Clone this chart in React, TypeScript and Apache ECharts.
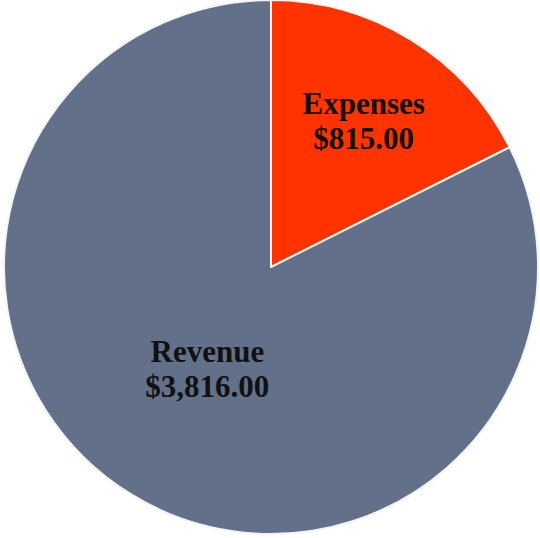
import React, { useEffect, useRef } from "react";
import * as echarts from "echarts";

const categories = ["Expenses", "Revenue"];
const values = [815, 3816];
const colors = ["#FF3300", "#637089"];

function fmt(v: number) {
  return "$" + v.toLocaleString("en-US", { minimumFractionDigits: 2, maximumFractionDigits: 2 });
}

export default function App() {
  const ref = useRef<HTMLDivElement>(null);
  useEffect(() => {
    const chart = echarts.init(ref.current!, null, { renderer: "svg" });
    const shifts = [
      [21, -30],
      [8, -14],
    ];
    chart.setOption({
      animation: false,
      backgroundColor: "#ffffff",
      series: [
        {
          type: "pie",
          center: [271, 267],
          radius: [0, 267],
          startAngle: 90,
          clockwise: true,
          avoidLabelOverlap: false,
          itemStyle: { borderColor: "#f4f4f4", borderWidth: 2 },
          label: {
            show: true,
            position: "inside",
            formatter: (p: any) => p.name + "\n" + fmt(p.value),
            fontFamily: "Liberation Serif, Times New Roman, serif",
            fontWeight: "bold",
            fontSize: 31,
            lineHeight: 35,
            color: "#111111",
          },
          labelLine: { show: false },
          labelLayout: (p: any) => ({ dx: shifts[p.dataIndex][0], dy: shifts[p.dataIndex][1] }),
          data: categories.map((c, i) => ({ name: c, value: values[i], itemStyle: { color: colors[i] } })),
        },
      ],
    });
    return () => chart.dispose();
  }, []);
  return <div ref={ref} style={{ position: "absolute", left: 0, top: 0, width: 540, height: 538 }} />;
}
